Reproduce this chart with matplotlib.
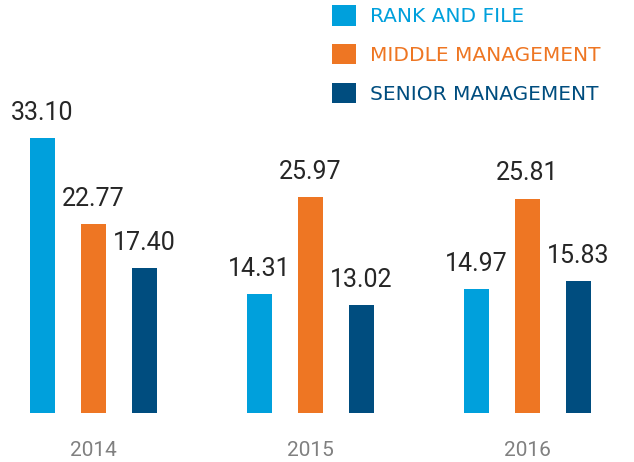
import matplotlib
matplotlib.use("Agg")
import matplotlib.pyplot as plt
import numpy as np

years = ["2014", "2015", "2016"]
series = ["RANK AND FILE", "MIDDLE MANAGEMENT", "SENIOR MANAGEMENT"]
rank_and_file = [33.10, 14.31, 14.97]
middle_mgmt = [22.77, 25.97, 25.81]
senior_mgmt = [17.40, 13.02, 15.83]
colors = ["#00A0DC", "#EE7623", "#004D7F"]

plt.rcParams["font.family"] = ["Roboto", "DejaVu Sans"]

fig = plt.figure(figsize=(6.34, 4.62), dpi=100)
ax = fig.add_axes([0, 49 / 462, 1, 413 / 462])

x = np.arange(len(years))
step = 0.235
width = 0.115
for i, (vals, c) in enumerate(zip([rank_and_file, middle_mgmt, senior_mgmt], colors)):
    pos = x + (i - 1) * step
    ax.bar(pos, vals, width=width, color=c, label=series[i])
    for px, v in zip(pos, vals):
        ax.annotate(f"{v:.2f}", (px, v), xytext=(0, 13), textcoords="offset points",
                    ha="center", va="baseline", fontsize=18, color="#262626")

ax.set_xlim(-0.431, 2.491)
ax.set_ylim(0, 49.7)
ax.set_xticks(x)
ax.set_xticklabels(years, fontsize=15, color="#808080")
ax.tick_params(axis="x", length=0, pad=20)
ax.set_yticks([])
for s in ax.spines.values():
    s.set_visible(False)

leg = ax.legend(loc="upper left", bbox_to_anchor=(332 / 634, 1 - 5 / 462),
                bbox_transform=fig.transFigure, frameon=False,
                prop={"family": "DejaVu Sans", "size": 14.5},
                handlelength=1.2, handleheight=1.2, handletextpad=0.7,
                labelspacing=0.88, borderaxespad=0, borderpad=0)
for t, c in zip(leg.get_texts(), colors):
    t.set_color(c)

fig.savefig("out.png", dpi=100)
